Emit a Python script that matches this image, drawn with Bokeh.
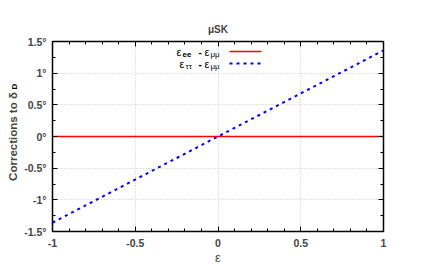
from bokeh.plotting import figure
from bokeh.models import (LinearAxis, Range1d, CustomJSTickFormatter, FixedTicker, Label)
from bokeh.embed import file_html
from bokeh.resources import INLINE

# data
eps = [-1.0, 1.0]
ee_minus_mumu = [0.0, 0.0]
tautau_minus_mumu = [-1.36, 1.36]
x_ticks = [-1, -0.5, 0, 0.5, 1]
y_ticks = [-1.5, -1, -0.5, 0, 0.5, 1, 1.5]
title_text = "μSK"

FONT = "Liberation Sans"
W, H = 436, 273
BL, BR, BT, BB = 52, 53, 41, 42
p = figure(width=W, height=H, output_backend="svg", toolbar_location=None,
           x_range=Range1d(-1, 1), y_range=Range1d(-1.5, 1.5),
           min_border_left=BL, min_border_right=BR, min_border_top=BT, min_border_bottom=BB,
           x_axis_location=None, y_axis_location=None)
p.title.text = title_text
p.title.align = "center"
p.title.text_font = FONT
p.title.text_font_size = "10px"
p.title.text_font_style = "bold"
p.title.standoff = 14

p.outline_line_color = "black"
p.outline_line_width = 1.5
p.background_fill_color = "white"
p.border_fill_color = "white"

minor_x = [round(-1 + 0.1 * i, 2) for i in range(21)]
minor_y = [round(-1.5 + 0.25 * i, 2) for i in range(13)]

def mk_axis(ticks, minor, labels, fmt_code, standoff=6):
    ax = LinearAxis(ticker=FixedTicker(ticks=ticks, minor_ticks=minor))
    ax.major_tick_in = 5
    ax.major_tick_out = 0
    ax.minor_tick_in = 3
    ax.minor_tick_out = 0
    ax.axis_line_color = None
    ax.major_tick_line_color = "black"
    ax.minor_tick_line_color = "black"
    if labels:
        ax.formatter = CustomJSTickFormatter(code=fmt_code)
        ax.major_label_text_font = FONT
        ax.major_label_text_font_size = "10.5px"
        ax.major_label_text_font_style = "bold"
        ax.major_label_standoff = standoff
    else:
        ax.major_label_text_font_size = "0px"
        ax.major_label_text_color = None
        ax.major_label_standoff = 0
    return ax

xb = mk_axis(x_ticks, minor_x, True, "return tick.toString();", 7)
xb.axis_label = "ε"
xb.axis_label_text_font = FONT
xb.axis_label_text_font_style = "normal"
xb.axis_label_text_font_size = "13px"
xb.axis_label_standoff = 0
p.add_layout(xb, "below")
yl = mk_axis(y_ticks, minor_y, True, "return tick.toString() + '°';", 6)
yl.axis_label = "Corrections to δ"
yl.axis_label_text_font = FONT
yl.axis_label_text_font_style = "bold"
yl.axis_label_text_font_size = "11.5px"
yl.axis_label_standoff = 2
p.add_layout(yl, "left")
p.add_layout(mk_axis(x_ticks, minor_x, False, ""), "above")
p.add_layout(mk_axis(y_ticks, minor_y, False, ""), "right")

p.xgrid.ticker = FixedTicker(ticks=x_ticks)
p.ygrid.ticker = FixedTicker(ticks=y_ticks)
for g in (p.xgrid, p.ygrid):
    g.grid_line_color = "#c8c8c8"
    g.grid_line_dash = "1 2"
    g.grid_line_width = 1

p.line(eps, ee_minus_mumu, line_color="#ff0000", line_width=1.3)
p.line(eps, tautau_minus_mumu, line_color="#0000ff", line_width=2, line_dash="3 4")

# legend (screen units relative to frame)
FW, FH = W - BL - BR, H - BT - BB
def sx2d(sx):
    return -1 + 2 * sx / FW
def sy2d(sy):
    return -1.5 + 3 * sy / FH

def mklab(txt, x, y, size, style="normal", align="left", angle=0):
    return Label(x=x, y=y, x_units="screen", y_units="screen", text=txt,
                 text_font=FONT, text_font_size=size, text_font_style=style,
                 text_baseline="middle", text_align=align, text_color="black",
                 angle=angle, angle_units="deg")

rows = [("ee", FH - 10, "#ff0000", None, 124, 130), ("ττ", FH - 22, "#0000ff", "3 4", 127, 133)]
for sub, sy, col, dash, xe, xs in rows:
    p.add_layout(mklab("ε", xe, sy, "11px"))
    p.add_layout(mklab(sub, xs, sy - 3, "8px", "bold" if sub == "ee" else "normal"))
    p.add_layout(mklab("-", 146, sy, "10px", "bold"))
    p.add_layout(mklab("ε", 152, sy, "11px"))
    p.add_layout(mklab("μμ", 158, sy - 3, "8px"))
    kw = dict(line_color=col, line_width=1.3 if dash is None else 2)
    if dash:
        kw["line_dash"] = dash
    p.line([sx2d(177), sx2d(209)], [sy2d(sy), sy2d(sy)], **kw)

# subscript D of the y-axis label (side panel, so it is not clipped to the frame)
p.add_layout(mklab("D", -369, 142, "8px", "bold", "left", 90), "right")

open("out.html", "w").write(file_html(p, INLINE))
